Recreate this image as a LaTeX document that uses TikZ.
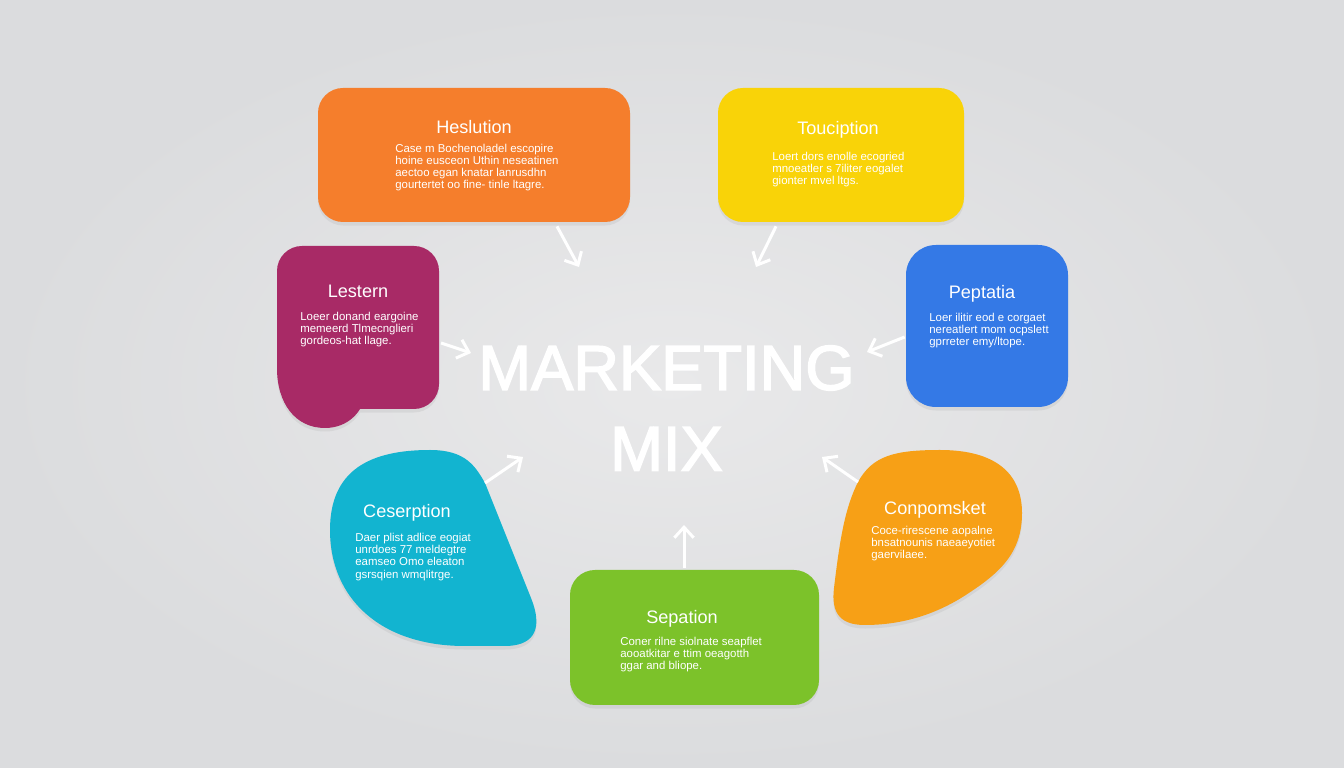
\documentclass[tikz,border=0pt]{standalone}
\usepackage{fontspec}
\setmainfont{Liberation Sans}
\newcommand\heavy[1]{\special{pdf:literal direct 1 1 1 RG 2 Tr 0.85 w}#1\special{pdf:literal direct 0 Tr}}
\usetikzlibrary{arrows.meta,positioning,shadows}

\definecolor{bgin}{RGB}{233,233,234}
\definecolor{bgout}{RGB}{219,220,222}
\definecolor{hesorange}{RGB}{245,126,44}
\definecolor{touyellow}{RGB}{249,211,8}
\definecolor{lesmagenta}{RGB}{168,42,102}
\definecolor{pepblue}{RGB}{52,121,230}
\definecolor{cescyan}{RGB}{18,180,208}
\definecolor{conorange}{RGB}{247,160,22}
\definecolor{sepgreen}{RGB}{124,194,42}

\tikzset{
    card/.style={rounded corners=0.5cm, inner sep=0pt, drop shadow={opacity=0.12, shadow xshift=0pt, shadow yshift=-2pt}},
    blob/.style={drop shadow={opacity=0.12, shadow xshift=0pt, shadow yshift=-2pt}},
    head/.style={text=white, inner sep=0pt, text depth=0pt, font=\fontsize{10.3}{12}\selectfont},
    body/.style={text=white, inner sep=0pt, align=left, anchor=north west, font=\fontsize{6.5}{6.9}\selectfont},
    mixtitle/.style={text=white, inner sep=0pt, font=\fontsize{36}{40}\selectfont},
    arr/.style={white, line width=1.7pt, -{Straight Barb[length=6pt,width=11pt]}}
}

\begin{document}
\begin{tikzpicture}
                \useasboundingbox (0,0) rectangle (26.88,15.36);
                \shade[inner color=bgin, outer color=bgout] (0,0) rectangle (26.88,15.36);

                % boxes
                \node[card, fill=hesorange, minimum width=6.24cm, minimum height=2.68cm] (hesbox) at (9.48,12.26) {};
                \node[card, fill=touyellow, minimum width=4.92cm, minimum height=2.68cm] (toubox) at (16.82,12.26) {};
                \node[card, fill=pepblue, minimum width=3.24cm, minimum height=3.24cm, rounded corners=0.6cm] (pepbox) at (19.74,8.84) {};
                \node[card, fill=sepgreen, minimum width=4.98cm, minimum height=2.7cm] (sepbox) at (13.89,2.61) {};

                \fill[lesmagenta, blob] (5.54,8.0) [rounded corners=0.5cm] -- (5.54,10.44) -- (8.78,10.44) -- (8.78,8.5) coordinate (lesR) -- (8.78,7.18) -- (7.7,7.18) [sharp corners]
                    .. controls (7.2,7.18) and (7.0,6.8) .. (6.5,6.8) .. controls (5.9,6.8) and (5.54,7.3) .. (5.54,8.0) -- cycle;
                \fill[cescyan, blob] (6.6,4.76) .. controls (6.6,5.96) and (7.4,6.36) .. (8.6,6.36) .. controls (9.3,6.36) and (9.5,6.05) .. (9.7,5.7) coordinate (cesR)
                    -- (10.62,3.4) .. controls (10.9,2.7) and (10.6,2.44) .. (10.1,2.44) -- (9.3,2.44) .. controls (7.6,2.44) and (6.6,3.4) .. (6.6,4.76) -- cycle;
                \fill[conorange, blob] (17.16,5.72) coordinate (conL) .. controls (17.45,6.25) and (17.9,6.36) .. (18.8,6.36) .. controls (19.9,6.36) and (20.44,5.9) .. (20.44,5.1)
                    .. controls (20.44,4.3) and (20.0,3.9) .. (19.3,3.45) .. controls (18.6,3.0) and (17.9,2.86) .. (17.3,2.86) .. controls (16.8,2.86) and (16.62,3.1) .. (16.68,3.6)
                    .. controls (16.8,4.6) and (16.9,5.2) .. (17.16,5.72) -- cycle;

                % headings and texts
                \node[head] (hes) at (9.48,12.82) {Heslution};
                \node[body] (hesb) at (7.9,12.48) {Case m Bochenoladel escopire\\hoine eusceon Uthin neseatinen\\aectoo egan knatar lanrusdhn\\gourtertet oo fine- tinle ltagre.};
                \node[head] (tou) at (16.76,12.8) {Touciption};
                \node[body] (toub) at (15.44,12.32) {Loert dors enolle ecogried\\mnoeatler s 7iliter eogalet\\gionter mvel ltgs.};
                \node[head] (les) at (7.16,9.54) {Lestern};
                \node[body] (lesb) at (6.0,9.12) {Loeer donand eargoine\\memeerd Tlmecnglieri\\gordeos-hat llage.};
                \node[head] (pep) at (19.64,9.52) {Peptatia};
                \node[body] (pepb) at (18.58,9.1) {Loer ilitir eod e corgaet\\nereatlert mom ocpslett\\gprreter emy/ltope.};
                \node[head] (ces) at (8.14,5.14) {Ceserption};
                \node[body] (cesb) at (7.1,4.7) {Daer plist adlice eogiat\\unrdoes 77 meldegtre\\eamseo Omo eleaton\\gsrsqien wmqlitrge.};
                \node[head] (con) at (18.7,5.2) {Conpomsket};
                \node[body] (conb) at (17.42,4.84) {Coce-rirescene aopalne\\bnsatnounis naeaeyotiet\\gaervilaee.};
                \node[head] (sep) at (13.64,3.02) {Sepation};
                \node[body] (sepb) at (12.4,2.62) {Coner rilne siolnate seapflet\\aooatkitar e ttim oeagotth\\ggar and bliope.};

                % title
                \node[mixtitle] (mkt) at (13.33,8.0) {\heavy{MARKETING}};
                \node[mixtitle, below=0.72cm of mkt] (mix) {\heavy{MIX}};

                % arrows
                \coordinate (tHes) at (11.58,10.02);
                \coordinate (tTou) at (15.12,10.02);
                \coordinate (tLes) at (9.42,8.3);
                \coordinate (tPep) at (17.34,8.32);
                \coordinate (tCes) at (10.46,6.22);
                \coordinate (tCon) at (16.44,6.22);
                \coordinate (tSep) at (13.68,4.86);

                \draw[arr] ([shift={(1.66,-0.08)}]hesbox.south) -- (tHes);
                \draw[arr] ([shift={(-1.3,-0.08)}]toubox.south) -- (tTou);
                \draw[arr] ([xshift=0.04cm]lesR) -- (tLes);
                \draw[arr] ([shift={(-0.02,-0.22)}]pepbox.west) -- (tPep);
                \draw[arr] (cesR) -- (tCes);
                \draw[arr] (conL) -- (tCon);
                \draw[arr] ([shift={(-0.21,0.04)}]sepbox.north) -- (tSep);
            \end{tikzpicture}
\end{document}
